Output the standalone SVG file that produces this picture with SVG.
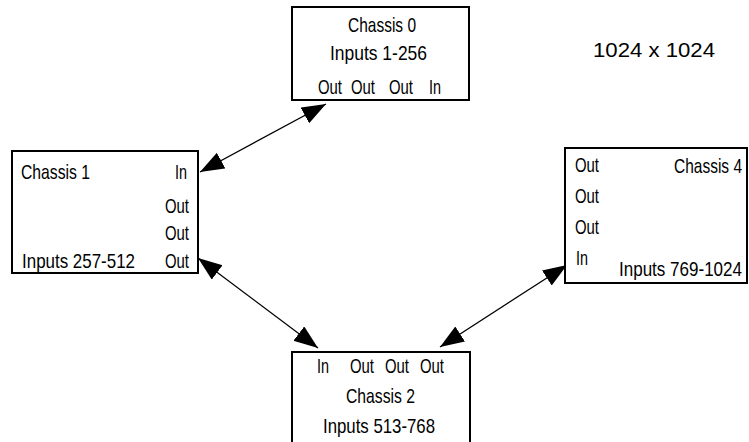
<svg xmlns="http://www.w3.org/2000/svg" width="749" height="442" viewBox="0 0 749 442">
  <style>
    .box { fill: #fff; stroke: #000; stroke-width: 2; }
    .lbl { font-family: "Liberation Sans", Arial, sans-serif; font-size: 21px; fill: #000; }
    .end { text-anchor: end; }
    .link { stroke: #000; stroke-width: 1.3; fill: none; marker-start: url(#head); marker-end: url(#head); }
  </style>
  <defs>
    <marker id="head" markerUnits="userSpaceOnUse" markerWidth="26" markerHeight="20" refX="24" refY="9" orient="auto-start-reverse">
      <path d="M0,0 L24,9 L0,18 Z" fill="#000"/>
    </marker>
  </defs>
  <rect width="749" height="442" fill="#fff"/>

  <g id="connectors">
    <line class="link" x1="200" y1="172" x2="326" y2="104"/>
    <line class="link" x1="198" y1="258" x2="318" y2="348"/>
    <line class="link" x1="440" y1="347" x2="567" y2="265"/>
  </g>

  <g id="chassis0">
    <rect class="box" x="292" y="7" width="177" height="93"/>
    <text class="lbl" x="348" y="32" textLength="68" lengthAdjust="spacingAndGlyphs">Chassis 0</text>
    <text class="lbl" x="330" y="60" textLength="97" lengthAdjust="spacingAndGlyphs">Inputs 1-256</text>
    <text class="lbl" x="318" y="94" textLength="24" lengthAdjust="spacingAndGlyphs">Out</text>
    <text class="lbl" x="351" y="94" textLength="24" lengthAdjust="spacingAndGlyphs">Out</text>
    <text class="lbl" x="389" y="94" textLength="24" lengthAdjust="spacingAndGlyphs">Out</text>
    <text class="lbl" x="429" y="94" textLength="12" lengthAdjust="spacingAndGlyphs">In</text>
  </g>

  <g id="chassis1">
    <rect class="box" x="12" y="151" width="186" height="122"/>
    <text class="lbl" x="21" y="179" textLength="69" lengthAdjust="spacingAndGlyphs">Chassis 1</text>
    <text class="lbl" x="175" y="179" textLength="12" lengthAdjust="spacingAndGlyphs">In</text>
    <text class="lbl" x="165" y="213" textLength="24" lengthAdjust="spacingAndGlyphs">Out</text>
    <text class="lbl" x="165" y="240" textLength="24" lengthAdjust="spacingAndGlyphs">Out</text>
    <text class="lbl" x="165" y="268" textLength="24" lengthAdjust="spacingAndGlyphs">Out</text>
    <text class="lbl" x="22" y="268" textLength="113" lengthAdjust="spacingAndGlyphs">Inputs 257-512</text>
  </g>

  <g id="chassis4">
    <rect class="box" x="565" y="148" width="182" height="135"/>
    <text class="lbl" x="575" y="172" textLength="24" lengthAdjust="spacingAndGlyphs">Out</text>
    <text class="lbl" x="575" y="203" textLength="24" lengthAdjust="spacingAndGlyphs">Out</text>
    <text class="lbl" x="575" y="234" textLength="24" lengthAdjust="spacingAndGlyphs">Out</text>
    <text class="lbl" x="576" y="265" textLength="12" lengthAdjust="spacingAndGlyphs">In</text>
    <text class="lbl end" x="742" y="173" textLength="68" lengthAdjust="spacingAndGlyphs">Chassis 4</text>
    <text class="lbl end" x="742" y="276" textLength="123" lengthAdjust="spacingAndGlyphs">Inputs 769-1024</text>
  </g>

  <g id="chassis2">
    <rect class="box" x="292" y="352" width="178" height="100"/>
    <text class="lbl" x="317" y="373" textLength="12" lengthAdjust="spacingAndGlyphs">In</text>
    <text class="lbl" x="350" y="373" textLength="24" lengthAdjust="spacingAndGlyphs">Out</text>
    <text class="lbl" x="385" y="373" textLength="24" lengthAdjust="spacingAndGlyphs">Out</text>
    <text class="lbl" x="420" y="373" textLength="24" lengthAdjust="spacingAndGlyphs">Out</text>
    <text class="lbl" x="346" y="403" textLength="69" lengthAdjust="spacingAndGlyphs">Chassis 2</text>
    <text class="lbl" x="323" y="433" textLength="112" lengthAdjust="spacingAndGlyphs">Inputs 513-768</text>
  </g>

  <g id="size-note">
    <text class="lbl" x="593" y="57" textLength="122" lengthAdjust="spacingAndGlyphs">1024 x 1024</text>
  </g>
</svg>
